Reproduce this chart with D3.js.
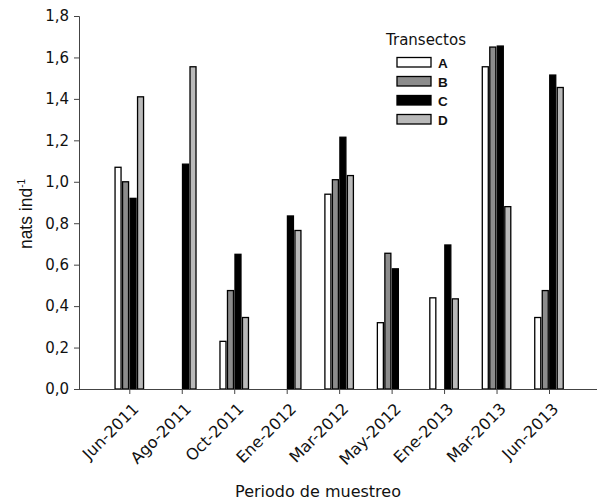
<!DOCTYPE html>
<html>
<head>
<meta charset="utf-8">
<script src="https://cdn.jsdelivr.net/npm/d3@7"></script>
<style>
  html, body { margin: 0; padding: 0; background: #fff; }
  svg { display: block; }
</style>
</head>
<body>
<svg id="chart" width="598" height="501"></svg>
<script>
// Sampling periods along the x axis
const periods = ["Jun-2011", "Ago-2011", "Oct-2011", "Ene-2012", "Mar-2012",
                 "May-2012", "Ene-2013", "Mar-2013", "Jun-2013"];
// Transects (one bar each per period)
const transects = ["A", "B", "C", "D"];
// Diversity values (nats ind^-1) per transect; null = no bar
const valuesA = [1.07, null, 0.23, null, 0.94, 0.32, 0.44, 1.555, 0.345];
const valuesB = [1.00, null, 0.475, null, 1.01, 0.655, null, 1.65, 0.475];
const valuesC = [0.92, 1.085, 0.65, 0.835, 1.215, 0.58, 0.695, 1.655, 1.515];
const valuesD = [1.41, 1.555, 0.345, 0.765, 1.03, null, 0.435, 0.88, 1.455];
const yTicks = [0, 0.2, 0.4, 0.6, 0.8, 1.0, 1.2, 1.4, 1.6, 1.8];

const series = { A: valuesA, B: valuesB, C: valuesC, D: valuesD };
const fills = { A: "#ffffff", B: "#8c8c8c", C: "#000000", D: "#b9b9b9" };

const svg = d3.select("#chart");
const x0 = 79, y0 = 389, yTop = 16, xEnd = 597;

const y = d3.scaleLinear().domain([0, 1.8]).range([y0, yTop]);
const x = d3.scalePoint().domain(periods).range([129.3, 549]);
const xs = d3.scaleBand().domain(transects).range([-15, 15])
  .paddingInner(0.2).paddingOuter(0.1);

const comma = d3.formatLocale({ decimal: ",", thousands: ".", grouping: [3], currency: ["", ""] });
const fmt = comma.format(".1f");

// Bars
const rows = [];
transects.forEach(t => {
  series[t].forEach((v, i) => {
    if (v != null) rows.push({ t, period: periods[i], v });
  });
});

svg.append("g").selectAll("rect").data(rows).join("rect")
  .attr("x", d => x(d.period) + xs(d.t))
  .attr("y", d => y(d.v))
  .attr("width", xs.bandwidth())
  .attr("height", d => y(0) - y(d.v))
  .attr("fill", d => fills[d.t])
  .attr("stroke", "#000")
  .attr("stroke-width", 1.3);

// Y axis
const yAxis = svg.append("g").attr("transform", `translate(${x0},0)`)
  .call(d3.axisLeft(y).tickValues(yTicks).tickFormat(fmt).tickSizeOuter(0).tickSize(5));
yAxis.select(".domain").attr("stroke", "#444");
yAxis.selectAll(".tick line").attr("stroke", "#444");
yAxis.selectAll("text")
  .attr("font-family", "'DejaVu Sans', Verdana, sans-serif")
  .attr("font-size", 15).attr("fill", "#111").attr("dx", -2);

// X axis
const xAxis = svg.append("g").attr("transform", `translate(0,${y0})`)
  .call(d3.axisBottom(x).tickSize(5).tickSizeOuter(0));
xAxis.select(".domain").attr("d", `M${x0},0.5H${xEnd}`).attr("stroke", "#444");
xAxis.selectAll(".tick line").attr("stroke", "#444");
xAxis.selectAll("text")
  .attr("font-family", "'DejaVu Sans', Verdana, sans-serif")
  .attr("font-size", 16).attr("fill", "#111")
  .attr("text-anchor", "end")
  .attr("transform", "translate(2,13) rotate(-45)")
  .attr("dy", "0.7em").attr("y", 0).attr("x", 0);

// Axis titles
svg.append("text")
  .attr("x", 318).attr("y", 497)
  .attr("text-anchor", "middle")
  .attr("font-family", "'DejaVu Sans', Verdana, sans-serif")
  .attr("font-size", 16).attr("fill", "#111")
  .text("Periodo de muestreo");

const yt = svg.append("text")
  .attr("transform", "translate(32,214) rotate(-90)")
  .attr("text-anchor", "middle")
  .attr("font-family", "'Liberation Sans', Arial, sans-serif")
  .attr("font-size", 17.5).attr("fill", "#111");
yt.append("tspan").text("nats ind");
yt.append("tspan").attr("font-size", 10).attr("dy", -7).text("-1");

// Legend
const legend = svg.append("g");
legend.append("text")
  .attr("x", 386).attr("y", 45)
  .attr("font-family", "'DejaVu Sans', Verdana, sans-serif")
  .attr("font-size", 15).attr("fill", "#111")
  .text("Transectos");
const li = legend.selectAll("g.item").data(transects).join("g")
  .attr("class", "item")
  .attr("transform", (d, i) => `translate(397,${57.5 + i * 19})`);
li.append("rect")
  .attr("width", 34).attr("height", 9.5)
  .attr("fill", d => fills[d]).attr("stroke", "#000").attr("stroke-width", 1.3);
li.append("text")
  .attr("x", 41).attr("y", 10)
  .attr("font-family", "'Liberation Sans', Arial, sans-serif")
  .attr("font-weight", "bold").attr("font-size", 13.5).attr("fill", "#111")
  .text(d => d);
</script>
</body>
</html>
